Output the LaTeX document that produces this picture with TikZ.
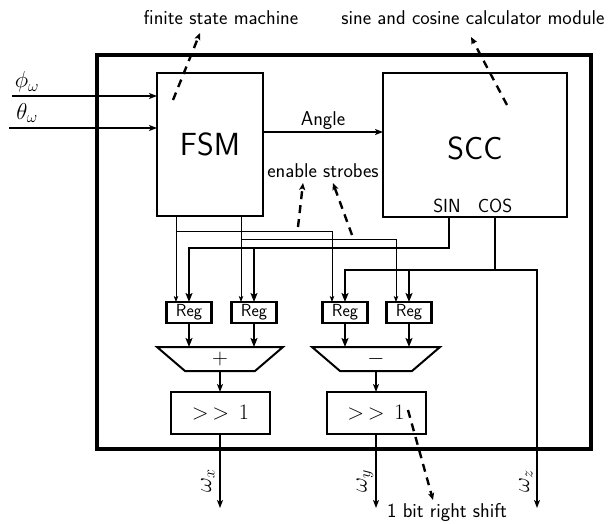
\RequirePackage{fix-cm}
\documentclass[tikz,border=0pt]{standalone}
\usepackage{fontspec}
\usetikzlibrary{arrows.meta}
\begin{document}
\begin{tikzpicture}[x=1pt,y=-1pt,
  box/.style={draw, line width=2pt, inner sep=0pt, outer sep=0pt},
  regbox/.style={box, line width=2.4pt, minimum width=45pt, minimum height=21pt, font=\sffamily\fontsize{17.5}{18}\selectfont},
  shiftbox/.style={box, minimum width=99pt, minimum height=42pt, font=\fontsize{22}{24}\selectfont},
  opbox/.style={inner sep=0pt, outer sep=0pt, minimum height=24pt, font=\fontsize{22}{24}\selectfont},
  mathlbl/.style={font=\fontsize{23}{24}\selectfont, inner sep=0pt},
  lbl/.style={font=\sffamily\fontsize{20}{22}\selectfont, inner sep=0pt},
  bigtxt/.style={font=\sffamily\fontsize{32}{34}\selectfont},
  bus/.style={line width=2.6pt, -{Stealth[length=9pt,width=7pt,inset=2pt]}},
  sig/.style={line width=1.8pt, -{Stealth[length=8pt,width=6pt,inset=2pt]}},
  thinsig/.style={line width=0.9pt, -{Stealth[length=6pt,width=4.5pt,inset=1.5pt]}},
  note/.style={line width=2.4pt, dash pattern=on 8pt off 6pt, -{Stealth[length=7pt,width=6pt,inset=1.5pt]}},
]
\useasboundingbox (0,0) rectangle (608,524);

% outer chip
\node[draw, line width=4.5pt, minimum width=494pt, minimum height=394pt, inner sep=0pt, outer sep=0pt] (chip) at (344,252) {};

% main blocks
\node[box, minimum width=106pt, minimum height=143pt, bigtxt] (fsm) at (210,144.5) {FSM};
\node[box, minimum width=184pt, minimum height=144pt] (scc) at (475,145) {};
\node[bigtxt] (scctxt) at (475,148) {SCC};
\node[lbl, font=\sffamily\fontsize{19}{20}\selectfont] (sin) at (447,206) {SIN};
\node[lbl, font=\sffamily\fontsize{19}{20}\selectfont] (cos) at (495,206) {COS};

% registers
\node[regbox] (reg1) at (189,312.5) {Reg};
\node[regbox] (reg2) at (254,312.5) {Reg};
\node[regbox] (reg3) at (345,312.5) {Reg};
\node[regbox] (reg4) at (409,312.5) {Reg};

% adder / subtractor
\node[opbox, minimum width=126pt] (add) at (220,359) {$+$};
\draw[line width=2pt] (add.north west) -- (add.north east) -- ([xshift=-28pt]add.south east) -- ([xshift=28pt]add.south west) -- cycle;
\node[opbox, minimum width=128pt] (sub) at (376,359) {$-$};
\draw[line width=2pt] (sub.north west) -- (sub.north east) -- ([xshift=-28pt]sub.south east) -- ([xshift=28pt]sub.south west) -- cycle;

% shifters
\node[shiftbox] (sh1) at (220.5,413) {${>}\mkern3mu{>}\mkern8mu1$};
\node[shiftbox] (sh2) at (376,413) {${>}\mkern3mu{>}\mkern8mu1$};

% inputs
\coordinate (phiin) at (12,96);
\coordinate (thin) at (9,128);
\node[mathlbl] (philbl) at (27,82) {$\phi_\omega$};
\node[mathlbl] (thlbl) at (27,113) {$\theta_\omega$};
\draw[sig] (phiin) -- (phiin -| fsm.west);
\draw[sig] (thin) -- (thin -| fsm.west);

% angle
\coordinate (angy) at (0,132);
\draw[sig] (fsm.east |- angy) -- (scc.west |- angy);
\node[lbl] (anglbl) at (323,121) {Angle};

% thin strobes
\coordinate (t1) at (176,231);
\coordinate (t2) at (241,239);
\draw[thinsig] (fsm.south -| t1) -- ([xshift=-13pt]reg1.north);
\draw[thinsig] (t1) -| ([xshift=-13pt]reg3.north);
\draw[thinsig] (fsm.south -| t2) -- ([xshift=-13pt]reg2.north);
\draw[thinsig] (t2) -| ([xshift=-13pt]reg4.north);

% SIN bus
\coordinate (sinj) at (449,248);
\draw[bus] (scc.south -| sinj) -- (sinj) -| (reg1.north);
\draw[bus] (reg2.north |- sinj) -- (reg2.north);

% COS bus
\coordinate (cosj) at (495,270);
\coordinate (wz) at (537,508);
\draw[bus] (scc.south -| cosj) -- (cosj) -| (reg3.north);
\draw[bus] (reg4.north |- cosj) -- (reg4.north);
\draw[sig] (cosj) -| (wz);

% reg to op
\draw[bus] (reg1.south) -- (reg1.south |- add.north);
\draw[bus] (reg2.south) -- (reg2.south |- add.north);
\draw[bus] (reg3.south) -- (reg3.south |- sub.north);
\draw[bus] (reg4.south) -- (reg4.south |- sub.north);
\draw[sig] (add.south) -- (add.south |- sh1.north);
\draw[sig] (sub.south) -- (sh2.north);

% outputs
\coordinate (wx) at (220,508);
\coordinate (wy) at (376,508);
\draw[sig] (sh1.south -| wx) -- (wx);
\draw[sig] (sh2.south) -- (wy);
\node[mathlbl, rotate=90] (wxl) at (208,481) {$\omega_x$};
\node[mathlbl, rotate=90] (wyl) at (365,481) {$\omega_y$};
\node[mathlbl, rotate=90] (wzl) at (526,481) {$\omega_z$};

% annotations
\node[lbl] (fsmnote) at (221,18) {finite state machine};
\node[lbl] (sccnote) at (473,18) {sine and cosine calculator module};
\node[lbl] (ennote) at (323,171) {enable strobes};
\node[lbl] (shnote) at (447,513) {1 bit right shift};
\coordinate (a1s) at (173,100); \coordinate (a1e) at (200,33);
\coordinate (a2s) at (507,105); \coordinate (a2e) at (471,37);
\coordinate (a3s) at (298,227); \coordinate (a3e) at (303,183);
\coordinate (a4s) at (352,235); \coordinate (a4e) at (333,183);
\coordinate (a5s) at (408,410); \coordinate (a5e) at (433,500);
\draw[note] (a1s) -- (a1e);
\draw[note] (a2s) -- (a2e);
\draw[note] (a3s) -- (a3e);
\draw[note] (a4s) -- (a4e);
\draw[note] (a5s) -- (a5e);
\end{tikzpicture}
\end{document}
